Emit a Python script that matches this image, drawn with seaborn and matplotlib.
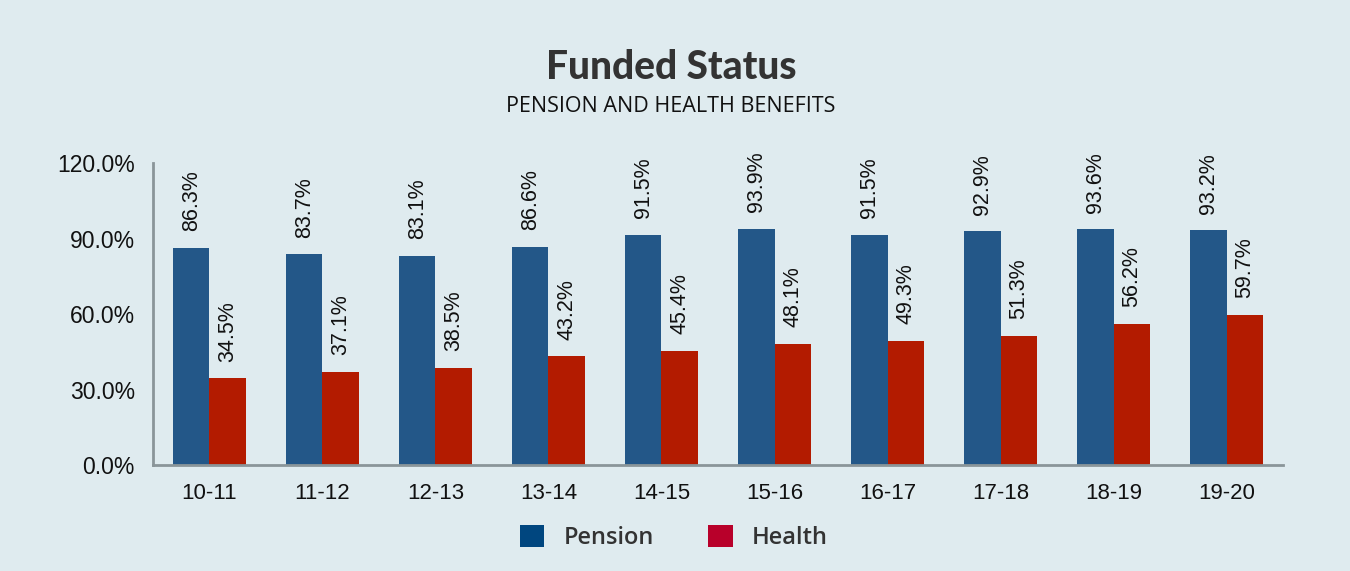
import matplotlib
matplotlib.use("Agg")
import matplotlib.pyplot as plt
from matplotlib.patches import Patch
import seaborn as sns
import pandas as pd

years = ["10-11", "11-12", "12-13", "13-14", "14-15", "15-16", "16-17", "17-18", "18-19", "19-20"]
pension = [86.3, 83.7, 83.1, 86.6, 91.5, 93.9, 91.5, 92.9, 93.6, 93.2]
health = [34.5, 37.1, 38.5, 43.2, 45.4, 48.1, 49.3, 51.3, 56.2, 59.7]
series_names = ["Pension", "Health"]
yticks = [0, 30, 60, 90, 120]

bg = "#dfebef"
bar_colors = ["#235788", "#b31b00"]
legend_colors = ["#00467f", "#b8002a"]

df = pd.DataFrame({
    "Year": years * 2,
    "Series": [series_names[0]] * len(years) + [series_names[1]] * len(years),
    "Value": pension + health,
})

sns.set_style("white")
plt.rcParams["font.family"] = ["Liberation Sans", "DejaVu Sans"]

fig = plt.figure(figsize=(13.5, 5.71), dpi=100, facecolor=bg)
ax = fig.add_axes([0.1133, 0.1856, 0.8371, 0.5289])
ax.set_facecolor(bg)

sns.barplot(data=df, x="Year", y="Value", hue="Series", order=years,
            hue_order=series_names, palette=bar_colors, width=0.64,
            saturation=1, ax=ax, legend=False, linewidth=0)

for cont in ax.containers:
    ax.bar_label(cont, labels=[f"{v:.1f}%" for v in cont.datavalues],
                 rotation=90, padding=12, fontsize=15.5, color="#111111")

ax.set_ylim(0, 120)
ax.set_xlim(-0.5, len(years) - 0.5)
ax.set_yticks(yticks)
ax.set_yticklabels([f"{v:.1f}%" for v in yticks], fontsize=16.5, color="#111111")
ax.tick_params(axis="x", which="major", length=0, labelsize=16, pad=13, labelcolor="#111111")
ax.set_xticks([i - 0.5 for i in range(len(years) + 1)], minor=True)
ax.tick_params(axis="x", which="minor", length=7, width=2, color="#8a9599", direction="out")
ax.tick_params(axis="y", length=8, width=2, color="#8a9599", direction="out", pad=5)
ax.set_xlabel("")
ax.set_ylabel("")
for s in ["top", "right"]:
    ax.spines[s].set_visible(False)
for s in ["left", "bottom"]:
    ax.spines[s].set_color("#8a9599")
    ax.spines[s].set_linewidth(2)

fig.text(0.497, 0.882, "Funded Status", ha="center", va="center", fontsize=28,
         fontweight="black", family=["Lato", "DejaVu Sans"], color="#333333")
fig.text(0.497, 0.814, "PENSION AND HEALTH BENEFITS", ha="center", va="center",
         fontsize=15.5, family=["Open Sans", "DejaVu Sans"], color="#111111")

handles = [Patch(facecolor=c, edgecolor="none") for c in legend_colors]
fig.legend(handles, series_names, loc="center", bbox_to_anchor=(0.499, 0.059), ncol=2,
           frameon=False, handlelength=1.05, handleheight=1.05, columnspacing=2.3,
           handletextpad=0.8,
           prop={"family": ["Open Sans", "DejaVu Sans"], "weight": "semibold", "size": 17},
           labelcolor="#333333")

fig.savefig("out.png", dpi=100, facecolor=bg)
